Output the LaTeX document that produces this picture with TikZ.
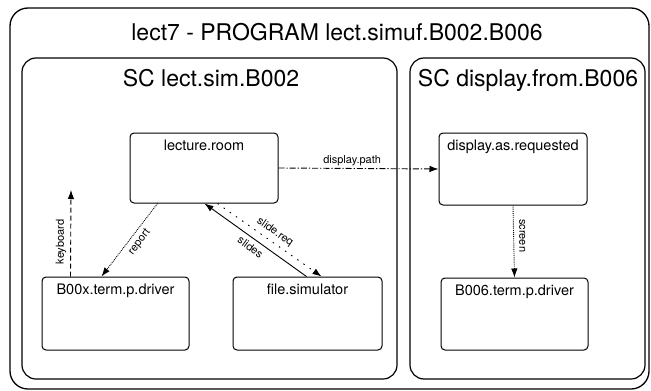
\documentclass[tikz,border=0pt]{standalone}
\usepackage{fontspec}
\setmainfont{TeX Gyre Heros}
\usetikzlibrary{arrows.meta}
\begin{document}
\begin{tikzpicture}[x=1pt,y=-1pt,
  frame/.style={draw, line width=1.3pt, rounded corners=18pt, inner sep=0pt},
  sc/.style={draw, line width=1.2pt, rounded corners=14pt, inner sep=0pt},
  box/.style={draw, line width=1pt, rounded corners=4pt, inner sep=0pt},
  boxtxt/.style={anchor=north, inner sep=0pt, font=\fontsize{14.5}{16}\selectfont},
  ttl/.style={anchor=base, inner sep=0pt, font=\fontsize{23}{27}\selectfont},
  lbl/.style={inner sep=4pt, font=\fontsize{11}{12}\selectfont},
  tip/.style={-{Latex[length=9pt,width=6.5pt]}},
  flow/.style={line width=0.9pt}
]
\useasboundingbox (0,0) rectangle (651,391);
% containers
\node[frame, minimum width=639pt, minimum height=381pt] (prog) at (329.5,198.5) {};
\node[ttl] (progt) at (337,40) {lect7 - PROGRAM lect.simuf.B002.B006};
\node[sc, minimum width=375pt, minimum height=321pt] (sca) at (209.5,218.5) {};
\node[ttl] (scat) at (211,86) {SC lect.sim.B002};
\node[sc, minimum width=235pt, minimum height=321pt] (scb) at (527.5,218.5) {};
\node[ttl] (scbt) at (528,86) {SC display.from.B006};
% boxes
\node[box, minimum width=148pt, minimum height=70pt] (lr) at (204,168) {};
\node[boxtxt] (lrt) at ([yshift=-7pt]lr.north) {lecture.room};
\node[box, minimum width=148pt, minimum height=72pt] (dar) at (513,169) {};
\node[boxtxt] (dart) at ([yshift=-7pt]dar.north) {display.as.requested};
\node[box, minimum width=147pt, minimum height=73pt] (bx) at (115.5,313.5) {};
\node[boxtxt] (bxt) at ([yshift=-7pt]bx.north) {B00x.term.p.driver};
\node[box, minimum width=149pt, minimum height=73pt] (fs) at (307.5,313.5) {};
\node[boxtxt] (fst) at ([yshift=-7pt]fs.north) {file.simulator};
\node[box, minimum width=147pt, minimum height=72pt] (b6) at (514.5,314) {};
\node[boxtxt] (b6t) at ([yshift=-7pt]b6.north) {B006.term.p.driver};
\coordinate (kb) at (71,190);
% connectors
\draw[flow, tip, dash pattern=on 6pt off 2pt on 1.2pt off 2pt] (lr.east) -- node[lbl, inner sep=2pt, above, pos=0.46] {display.path} (dar.west);
\draw[flow, tip, densely dotted] (dar.south) -- node[lbl, inner sep=5pt, pos=0.42, rotate=-90, anchor=south] {screen} (b6.north);
\draw[flow, tip, densely dotted] ([xshift=28pt]lr.south west) -- node[lbl, sloped, below, pos=0.45] {report} ([xshift=60pt]bx.north west);
\draw[flow, tip, dash pattern=on 5pt off 3pt] ([xshift=29pt]bx.north west) -- node[lbl, sloped, above, pos=0.4] {keyboard} (kb);
\draw[flow, tip] ([xshift=74pt]fs.north west) -- node[lbl, sloped, below, pos=0.5] {slides} ([xshift=75pt]lr.south west);
\draw[flow, tip, dash pattern=on 1.5pt off 6pt] ([xshift=88pt]lr.south west) -- node[lbl, sloped, above, pos=0.5] {slide.req} ([xshift=89pt]fs.north west);
\end{tikzpicture}
\end{document}
